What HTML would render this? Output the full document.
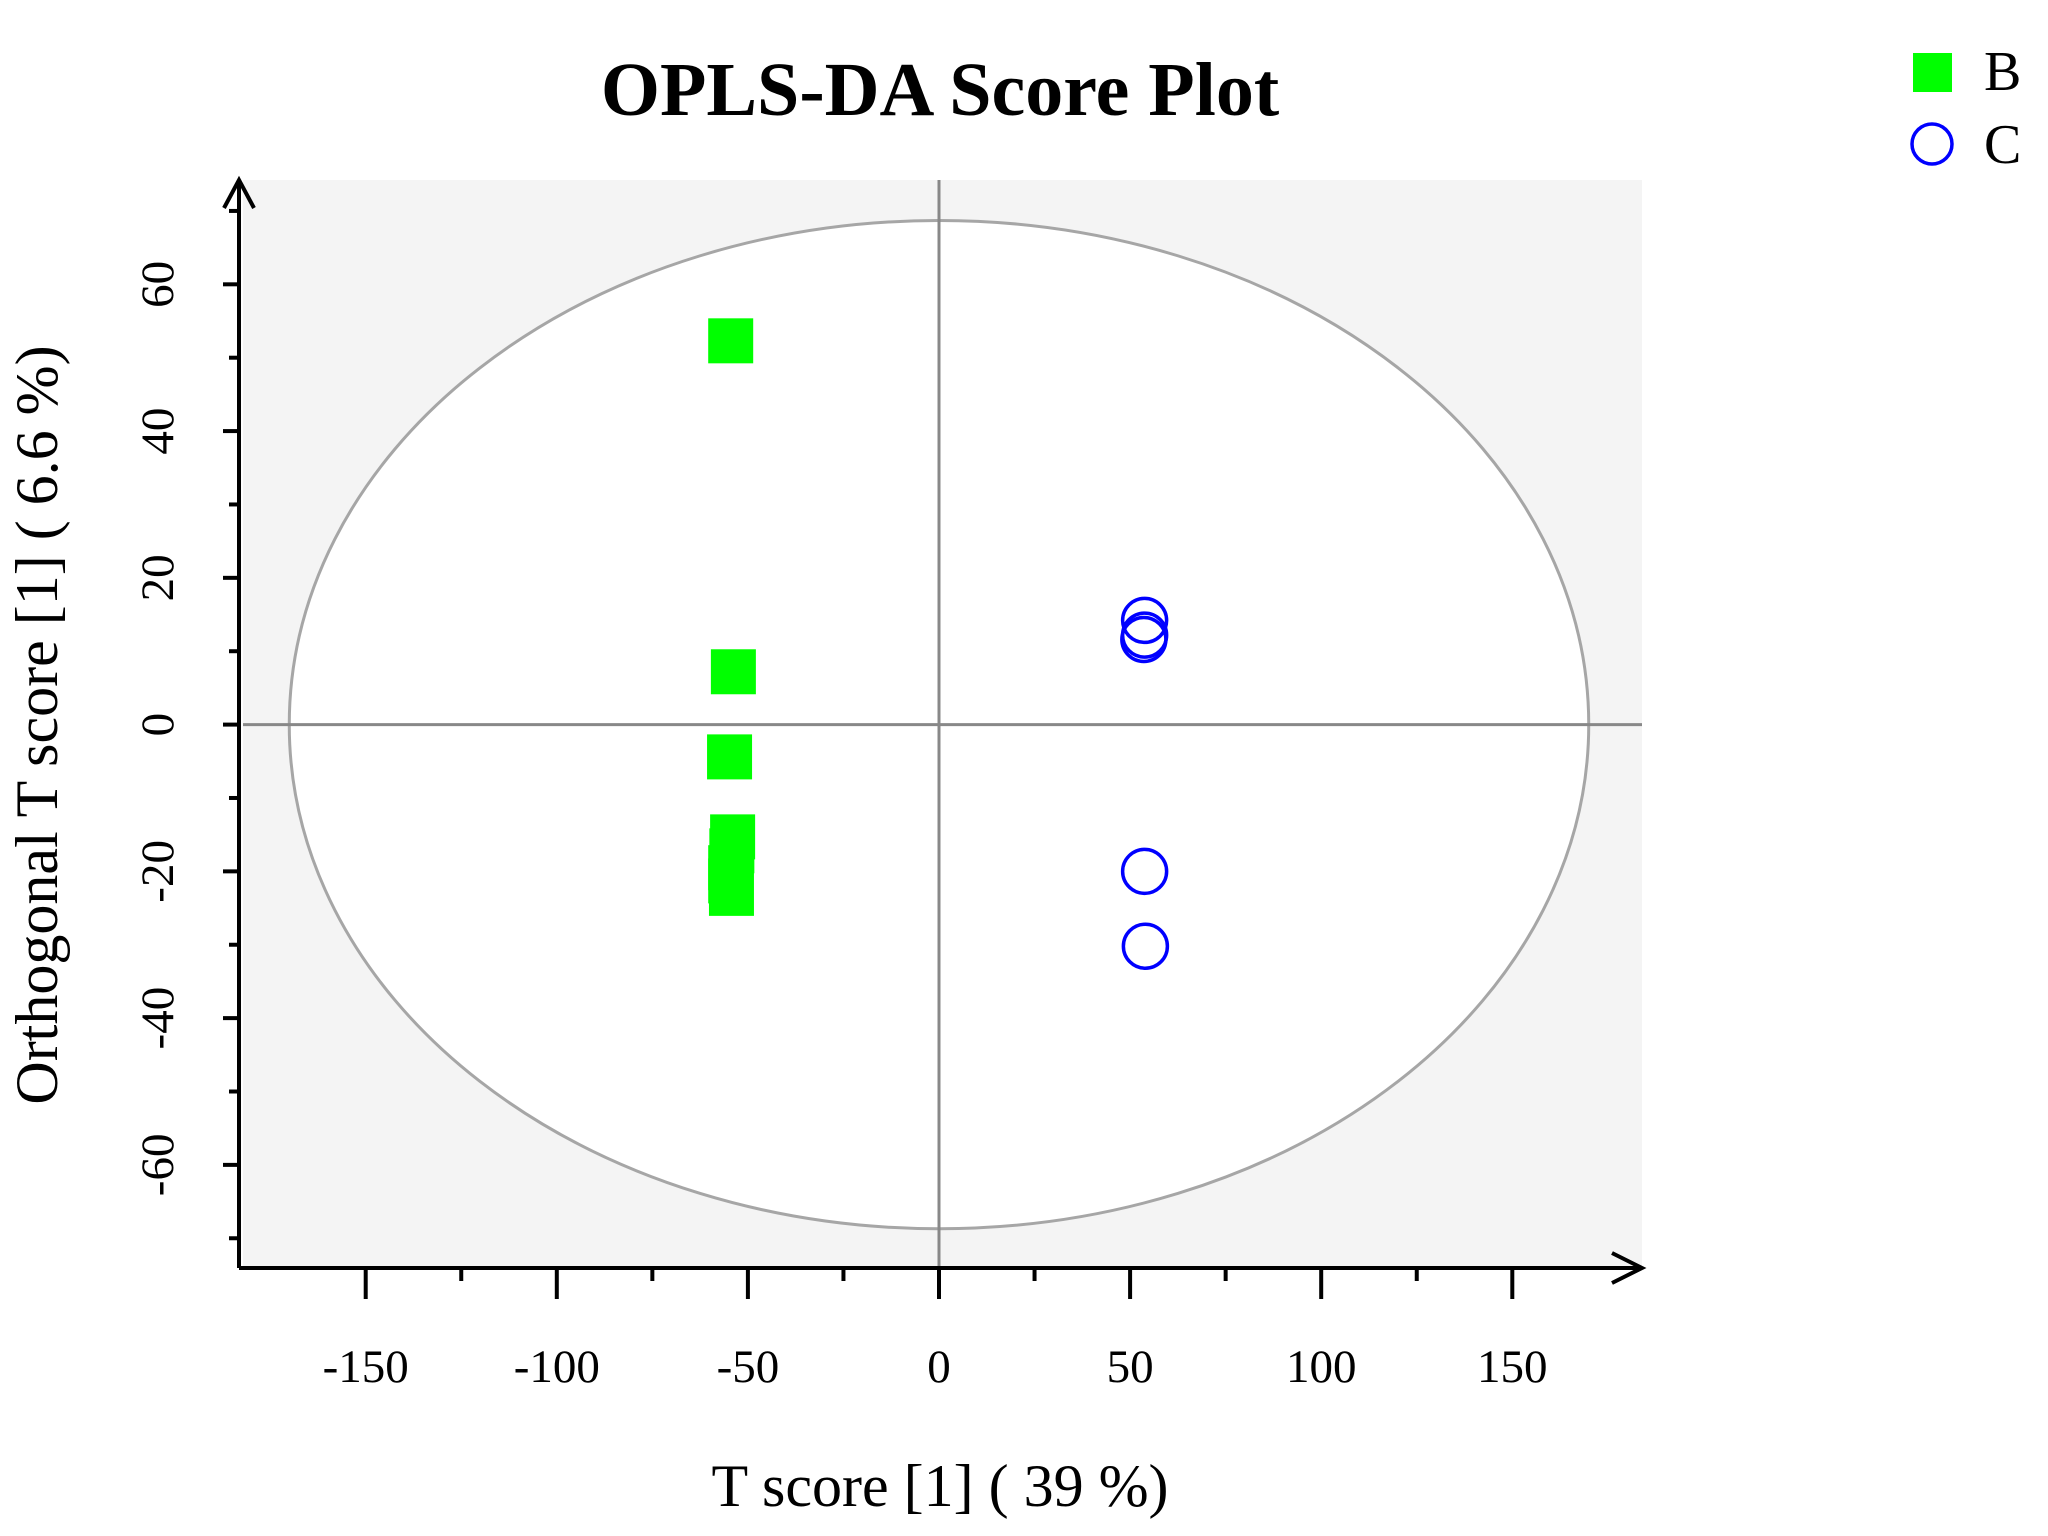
<!DOCTYPE html>
<html><head><meta charset="utf-8"><style>
html,body{margin:0;padding:0;background:#fff;}
svg{display:block;}
text{font-family:"Liberation Serif",serif;fill:#000;}
</style></head><body>
<svg id="chart" width="2048" height="1536" viewBox="0 0 2048 1536">
<rect x="243" y="180" width="1399" height="1088" fill="#f4f4f4"/>
<g id="marks"></g>
<text x="940" y="115" text-anchor="middle" font-size="76" font-weight="bold">OPLS-DA Score Plot</text>
<text x="940" y="1506" text-anchor="middle" font-size="60">T score [1] ( 39 %)</text>
<text transform="translate(57,725) rotate(-90)" text-anchor="middle" font-size="60">Orthogonal T score [1] ( 6.6 %)</text>
<g>
<rect x="1913" y="53" width="39" height="39" fill="#00ff00"/>
<text x="1984" y="90" font-size="56">B</text>
<circle cx="1932" cy="144" r="20" fill="none" stroke="#0000ff" stroke-width="3.5"/>
<text x="1984" y="163" font-size="56">C</text>
</g>
</svg>
<script>
const groupBX = [-54.5, -53.8, -54.8, -54.0, -54.2, -54.5, -54.5, -54.3];
const groupBY = [52.3, 7.2, -4.4, -15.3, -17.2, -19.5, -21.3, -23.0];
const groupCX = [53.8, 53.8, 53.6, 53.8, 54.0];
const groupCY = [14.2, 12.2, 11.6, -20.0, -30.2];
const xTicks = [-150, -100, -50, 0, 50, 100, 150];
const yTicks = [-60, -40, -20, 0, 20, 40, 60];
const ellipseRX = 170, ellipseRY = 68.7;

const NS = "http://www.w3.org/2000/svg";
const X0 = 939, XS = 3.822, Y0 = 724.6, YS = 7.338;
const sx = v => X0 + v * XS;
const sy = v => Y0 - v * YS;
const g = document.getElementById('marks');
function mk(tag, attrs, parent) {
  const e = document.createElementNS(NS, tag);
  for (const k in attrs) e.setAttribute(k, attrs[k]);
  (parent || g).appendChild(e);
  return e;
}
let e;
e = mk('ellipse', {cx: sx(0), cy: sy(0), rx: ellipseRX * XS, ry: ellipseRY * YS, fill: '#fff', stroke: '#a6a6a6', 'stroke-width': 3});


e = mk('line', {x1: sx(0), y1: 180, x2: sx(0), y2: 1268, stroke: '#888', 'stroke-width': 3});


e = mk('line', {x1: 243, y1: sy(0), x2: 1642, y2: sy(0), stroke: '#888', 'stroke-width': 3});


e = mk('path', {d: 'M239,1268 L1642,1268 M1612,1253 L1642,1268 L1612,1283', fill: 'none', stroke: '#000', 'stroke-width': 4});


e = mk('path', {d: 'M239,1268 L239,180 M224,208 L239,180 L254,208', fill: 'none', stroke: '#000', 'stroke-width': 4});


for (let i = 0; i < xTicks.length; i++) {
  const v = xTicks[i];
  e = mk('line', {x1: sx(v), y1: 1268, x2: sx(v), y2: 1299, stroke: '#000', 'stroke-width': 4});
  
  
  e = mk('text', {x: sx(v), y: 1382, 'text-anchor': 'middle', 'font-size': 47});
  e.textContent = v;
  
  
  if (i < xTicks.length - 1) {
    const m = (v + xTicks[i + 1]) / 2;
    e = mk('line', {x1: sx(m), y1: 1268, x2: sx(m), y2: 1281, stroke: '#000', 'stroke-width': 4});
    
    
  }
}
for (let i = 0; i < yTicks.length; i++) {
  const v = yTicks[i];
  e = mk('line', {x1: 239, y1: sy(v), x2: 223, y2: sy(v), stroke: '#000', 'stroke-width': 4});
  
  
  e = mk('text', {transform: 'translate(173,' + sy(v) + ') rotate(-90)', 'text-anchor': 'middle', 'font-size': 47});
  e.textContent = v;
  
  
  const ms = (i === yTicks.length - 1) ? [v - 10, v + 10] : [v - 10];
  for (const m of ms) {
    e = mk('line', {x1: 239, y1: sy(m), x2: 229, y2: sy(m), stroke: '#000', 'stroke-width': 4});
    
    
  }
}
for (let i = 0; i < groupBX.length; i++) {
  e = mk('rect', {x: sx(groupBX[i]) - 22.5, y: sy(groupBY[i]) - 22.5, width: 45, height: 45, fill: '#00ff00'});
  
  
}
for (let i = 0; i < groupCX.length; i++) {
  e = mk('circle', {cx: sx(groupCX[i]), cy: sy(groupCY[i]), r: 22, fill: 'none', stroke: '#0000ff', 'stroke-width': 3.5});
  
  
}
</script>
</body></html>
